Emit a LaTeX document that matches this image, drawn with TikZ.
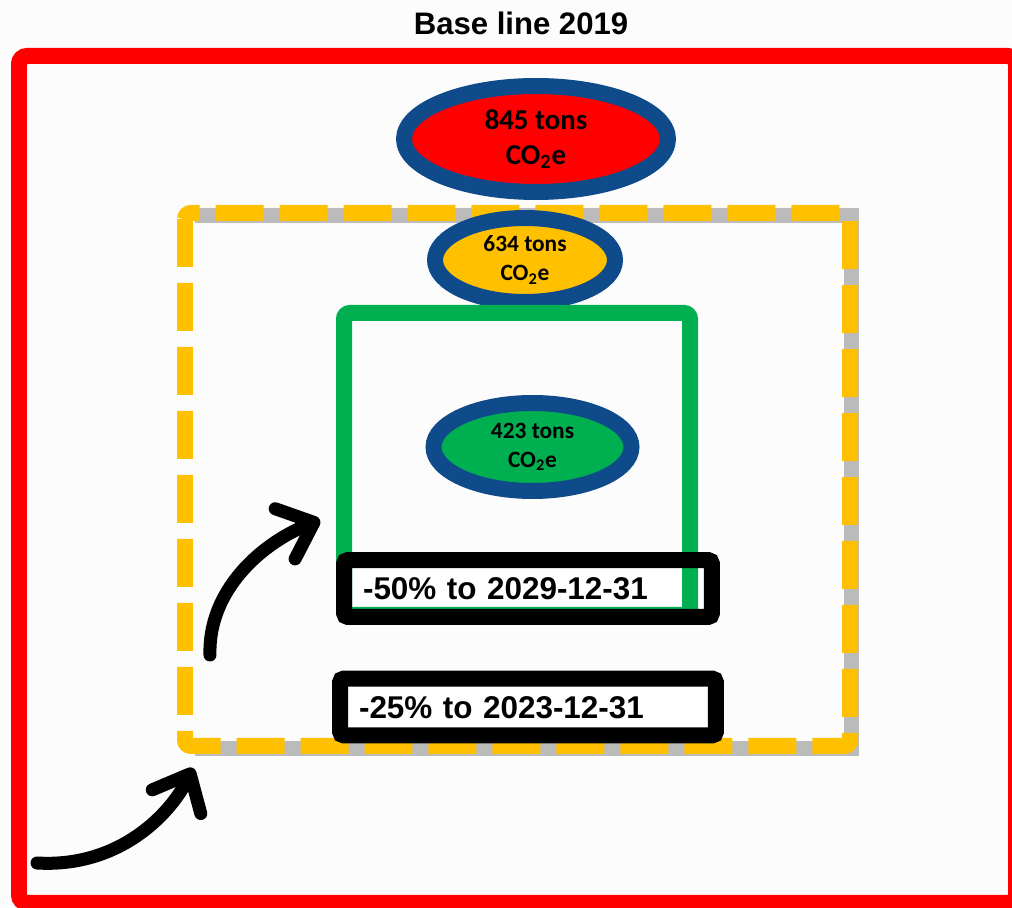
\documentclass[tikz,border=0pt]{standalone}
\usepackage{fontspec}
\setmainfont{Liberation Sans}
\newfontfamily\carlito{Carlito}
\usepackage{tikz}
\usetikzlibrary{shapes.geometric,arrows.meta}
\definecolor{paper}{HTML}{FCFCFC}
\definecolor{alarm}{HTML}{FF0000}
\definecolor{amber}{HTML}{FFC000}
\definecolor{leaf}{HTML}{00B050}
\definecolor{navy}{HTML}{0F4A8A}
\definecolor{smoke}{HTML}{A6A6A6}

\begin{document}
\begin{tikzpicture}[x=0.02cm,y=-0.02cm,
  rim/.style={line width=0.32cm, rounded corners=0.12cm},
  target/.style={ellipse, draw=navy, line width=0.32cm, inner sep=0pt,
    align=center},
  cutbox/.style={rectangle, fill=white, line width=0.32cm, rounded corners=0.08cm,
    inner xsep=0.38cm, inner ysep=0.34cm, outer sep=0pt, align=left,
    text height=0.46cm, text depth=0pt, font=\bfseries\fontsize{17.9}{20}\selectfont},
  sweep/.style={line width=0.26cm, line cap=round,
    -{Straight Barb[length=0.62cm,width=1.08cm,round]}}]
% units are pixels of a 1012 x 908 sheet, y runs downward
\useasboundingbox[fill=paper] (0,0) rectangle (1012,908);

% helper: one emission target, #1 name, #2 position, #3 fill, #4 size and font, #5 text
\newcommand{\drawtarget}[5]{%
  \node[target, fill=#3, #4] (#1) at (#2) {#5};
}

\node[font=\bfseries\fontsize{17.7}{20}\selectfont, anchor=base] (title) at (521,35) {Base line 2019};

% outer frame
\draw[rim, alarm, rounded corners=0.16cm] (19,56) rectangle (1016,903);

% 2023 frame, with a soft shadow showing through the gaps
\draw[smoke, line width=0.3cm, opacity=0.75] (195,216) -- (851,216) -- (851,749) -- (195,749);
\draw[rim, amber, dash pattern=on 0.96cm off 0.32cm] (185,213) rectangle (850,746);

% targets
\drawtarget{e845}{536,139}{alarm}{minimum width=5.28cm, minimum height=2.12cm,
  font=\carlito\bfseries\fontsize{16.4}{19.8}\selectfont}{845 tons\\CO\textsubscript{2}e}
\drawtarget{e634}{525,260}{amber}{minimum width=3.6cm, minimum height=1.68cm,
  font=\carlito\bfseries\fontsize{13.3}{16.4}\selectfont}{634 tons\\CO\textsubscript{2}e}

% 2029 label goes under the green frame, its rim on top
\node[cutbox, text width=6.6cm] (cut50) at (528,588.5) {-50\% to 2029-12-31};
\draw[rim, leaf, rounded corners=0.12cm] (344,313) rectangle (690,615);
\draw[rim, black, rounded corners=0.08cm] (cut50.north west) rectangle (cut50.south east);

\drawtarget{e423}{532.5,447}{leaf}{minimum width=3.96cm, minimum height=1.76cm,
  font=\carlito\bfseries\fontsize{13.3}{16.4}\selectfont}{423 tons\\CO\textsubscript{2}e}

\node[cutbox, draw=black, text width=6.76cm] (cut25) at (528,707) {-25\% to 2023-12-31};

% step arrows
\coordinate (tailA) at (37,863);
\coordinate (headA) at (193,768);
\coordinate (tailB) at (210,655);
\coordinate (headB) at (320,520);
\draw[sweep] (tailA) .. controls (120,868) and (171,813) .. (headA);
\draw[sweep] (tailB) .. controls (208,590) and (262,543) .. (headB);
\end{tikzpicture}
\end{document}
